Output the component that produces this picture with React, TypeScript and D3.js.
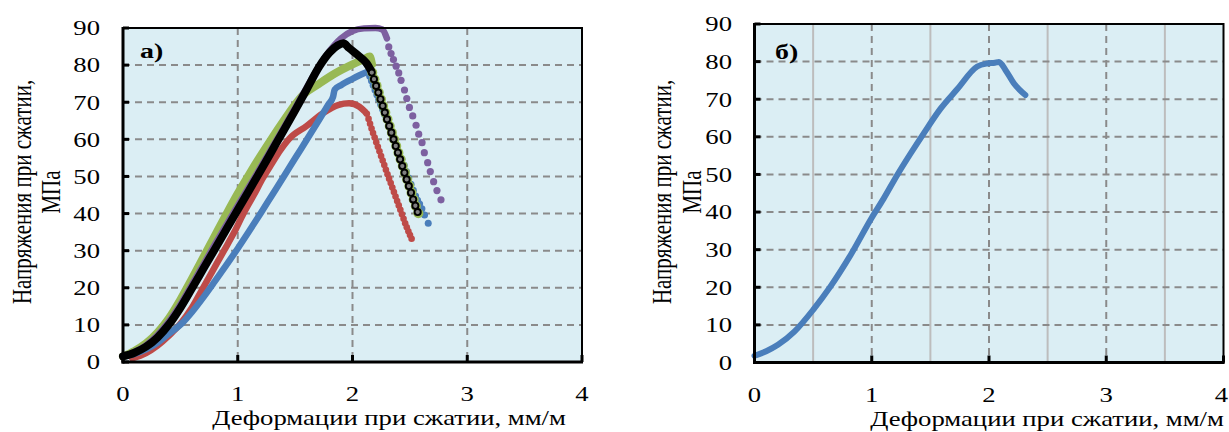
import React from "react";
import * as d3 from "d3";

type P = [number, number];

// ---------- texts & ticks ----------
const X_TICKS = [0, 1, 2, 3, 4];
const Y_TICKS = [0, 10, 20, 30, 40, 50, 60, 70, 80, 90];
const X_GRID_MAJOR = [1, 2, 3];
const X_GRID_MINOR_B = [0.5, 1.5, 2.5, 3.5];
const Y_GRID = [10, 20, 30, 40, 50, 60, 70, 80];
const X_TITLE = "Деформации при сжатии, мм/м";
const Y_TITLE_1 = "Напряжения при сжатии,";
const Y_TITLE_2 = "МПа";
const LABEL_A = "а)";
const LABEL_B = "б)";

// ---------- panel a data (strain mm/m, stress MPa) ----------
const redRise: P[] = [
  [0.08, 1], [0.2, 2.4], [0.3, 4.4], [0.4, 7.1], [0.5, 10.3], [0.6, 14.6], [0.68, 19],
  [0.78, 24.5], [0.88, 30], [0.97, 35], [1.05, 40], [1.14, 45], [1.22, 49.6], [1.3, 53.6],
  [1.37, 57], [1.45, 60.2], [1.6, 63.6], [1.74, 67], [1.88, 69.3], [1.97, 69.7],
  [2.06, 68.8], [2.11, 67.4],
];
const redFall: P[] = [
  [2.125, 66.9], [2.14, 65.5], [2.153, 64.2], [2.166, 62.9], [2.179, 61.7], [2.193, 60.5],
  [2.207, 59.2], [2.221, 58.0], [2.235, 56.8], [2.249, 55.5], [2.263, 54.3], [2.277, 53.1],
  [2.291, 51.8], [2.305, 50.6], [2.319, 49.4], [2.333, 48.2], [2.347, 47.0], [2.361, 45.8],
  [2.375, 44.6], [2.389, 43.4], [2.403, 42.2], [2.417, 41.0], [2.431, 39.8], [2.445, 38.6],
  [2.459, 37.4], [2.473, 36.3], [2.487, 35.2], [2.501, 34.2], [2.515, 33.2],
];

const blueRise: P[] = [
  [0, 1.5], [0.1, 2.2], [0.2, 3.4], [0.3, 5.2], [0.4, 7.6], [0.52, 10.6], [0.6, 13.4],
  [0.7, 17.4], [0.8, 21.7], [0.9, 26.1], [1.0, 30.6], [1.1, 35.3], [1.2, 40.1], [1.3, 45],
  [1.4, 49.9], [1.5, 54.9], [1.6, 59.8], [1.7, 64.8], [1.79, 69.4], [1.83, 71.4], [1.845, 73.4],
  [1.9, 74.6], [2.0, 76.3], [2.1, 77.8], [2.14, 78.3],
];
const blueFall: P[] = [
  [2.15, 77.0], [2.165, 75.8], [2.18, 74.6], [2.196, 73.3], [2.212, 72.0], [2.228, 70.7],
  [2.245, 69.4], [2.262, 68.1], [2.28, 66.7], [2.298, 65.3], [2.316, 63.9], [2.334, 62.4],
  [2.352, 60.9], [2.37, 59.4], [2.39, 57.8], [2.41, 56.2], [2.43, 54.6], [2.45, 53.0],
  [2.47, 51.3], [2.49, 49.6], [2.51, 47.9], [2.53, 46.3], [2.55, 44.7], [2.567, 43.6],
  [2.585, 42.6], [2.605, 41.3], [2.628, 39.6], [2.66, 37.4],
];

const greenRise: P[] = [
  [0, 1.5], [0.1, 3.0], [0.2, 5.0], [0.3, 7.9], [0.4, 11.8], [0.5, 16.8], [0.6, 22.4],
  [0.7, 28.2], [0.8, 34], [0.9, 39.8], [1.0, 45.4], [1.1, 50.6], [1.2, 55.6], [1.3, 60.4],
  [1.4, 65], [1.5, 69.4], [1.57, 72], [1.7, 74.8], [1.85, 77.8], [2.0, 80.2],
  [2.1, 81.6], [2.15, 82.3], [2.17, 80.2],
];
const greenFall: P[] = [
  [2.172, 78.0], [2.191, 76.2], [2.21, 74.4], [2.229, 72.6], [2.248, 70.8], [2.267, 69.0],
  [2.286, 67.2], [2.305, 65.4], [2.324, 63.6], [2.343, 61.8], [2.362, 60.0], [2.381, 58.2],
  [2.4, 56.4], [2.419, 54.6], [2.438, 52.8], [2.457, 51.0], [2.476, 49.2], [2.495, 47.4],
  [2.514, 45.6], [2.533, 43.8], [2.552, 42.0], [2.574, 40.1],
];

const purpleRise: P[] = [
  [0, 1.5], [0.1, 2.7], [0.2, 4.5], [0.3, 7.2], [0.4, 10.9], [0.5, 15.5], [0.6, 20.8],
  [0.7, 26.2], [0.8, 31.6], [0.9, 36.9], [1.0, 42.1], [1.1, 47.3], [1.2, 52.5], [1.3, 57.8],
  [1.4, 63.1], [1.5, 68.5], [1.6, 73.9], [1.7, 79.2], [1.8, 83.8], [1.9, 87.2], [2.0, 89.2],
  [2.1, 89.9], [2.2, 90], [2.26, 89.6], [2.3, 87.2],
];
const purpleFall: P[] = [
  [2.316, 84.9], [2.336, 83.1], [2.357, 81.5], [2.38, 79.7], [2.403, 77.9], [2.423, 75.9],
  [2.453, 73.3], [2.473, 71.0], [2.496, 68.6], [2.525, 66.3], [2.554, 63.8], [2.577, 61.4],
  [2.606, 59.1], [2.626, 56.4], [2.655, 53.7], [2.678, 51.3], [2.707, 48.6], [2.736, 46.2],
  [2.771, 43.7],
];

const blackRise: P[] = [
  [0, 1.5], [0.1, 2.5], [0.2, 4.1], [0.3, 6.6], [0.4, 10.1], [0.5, 14.6], [0.6, 19.8],
  [0.7, 25.1], [0.8, 30.4], [0.9, 35.7], [1.0, 41], [1.1, 46.3], [1.2, 51.6], [1.3, 57],
  [1.4, 62.4], [1.5, 67.8], [1.6, 73.4], [1.71, 79.6], [1.8, 83.4], [1.87, 85.3],
  [1.92, 85.9], [1.97, 84.6], [2.05, 82.6], [2.12, 80.6], [2.16, 78.6],
];
const blackFall: P[] = [
  [2.168, 78.0], [2.187, 76.2], [2.206, 74.4], [2.225, 72.6], [2.244, 70.8], [2.263, 69.0],
  [2.282, 67.2], [2.301, 65.4], [2.32, 63.6], [2.339, 61.8], [2.358, 60.0], [2.377, 58.2],
  [2.396, 56.4], [2.415, 54.6], [2.434, 52.8], [2.453, 51.0], [2.472, 49.2], [2.491, 47.4],
  [2.51, 45.6], [2.529, 43.8], [2.548, 42.1], [2.568, 40.4],
];

// ---------- panel b data ----------
const seriesB: P[] = [
  [0, 1.8], [0.1, 3], [0.2, 4.7], [0.34, 8.2], [0.5, 14], [0.65, 20.3], [0.82, 28.6],
  [1.0, 38.5], [1.1, 43.5], [1.22, 50], [1.33, 55.5], [1.445, 61], [1.587, 67.5],
  [1.73, 72.7], [1.9, 78.7], [1.985, 79.5], [2.05, 79.7], [2.085, 79.9], [2.14, 77.8],
  [2.21, 74.3], [2.31, 71.1],
];

// ---------- styling ----------
const FONT = "'Liberation Serif', 'Times New Roman', serif";
const SX = 1.27; // horizontal stretch of the original picture's lettering
const W = 1229;
const H = 432;
const BG = "#DBEEF4";
const GRID = "#8a8a8a";
const MINOR = "#bdbdbd";
const BLUE = "#4A7EBB";
const RED = "#BE4B48";
const GREEN = "#98B954";
const PURPLE = "#7D60A0";
const BLACK = "#000000";

interface PanelCfg {
  left: number; right: number; top: number; bottom: number;
  yLabelRight: number; yTitleX1: number; yTitleX2: number; yTitleY: number;
  xTitleX: number; xTitleY: number; xTickY: number;
  label: string; labelX: number; labelY: number; minor: boolean;
}

const CFG_A: PanelCfg = {
  left: 123, right: 582, top: 28, bottom: 362,
  yLabelRight: 100, yTitleX1: 31, yTitleX2: 60, yTitleY: 192,
  xTitleX: 389, xTitleY: 425, xTickY: 401,
  label: LABEL_A, labelX: 140, labelY: 58, minor: false,
};
const CFG_B: PanelCfg = {
  left: 754.5, right: 1223.5, top: 24, bottom: 362.5,
  yLabelRight: 732, yTitleX1: 671, yTitleX2: 701, yTitleY: 192,
  xTitleX: 1047, xTitleY: 426, xTickY: 402,
  label: LABEL_B, labelX: 775, labelY: 59, minor: true,
};

function T({ x, y, anchor, size, rotate, bold, dy, children }: { x: number; y: number; anchor?: string; size: number; rotate?: boolean; bold?: boolean; dy?: string; children: React.ReactNode }) {
  return (
    <text
      transform={`translate(${x},${y}) scale(${SX},1)${rotate ? " rotate(-90)" : ""}`}
      textAnchor={anchor || "start"}
      dy={dy}
      fontFamily={FONT}
      fontSize={size}
      fontWeight={bold ? "bold" : "normal"}
      fill="#000"
    >
      {children}
    </text>
  );
}

function Panel({ cfg, children }: { cfg: PanelCfg; children: (x: d3.ScaleLinear<number, number>, y: d3.ScaleLinear<number, number>) => React.ReactNode }) {
  const x = d3.scaleLinear().domain([0, 4]).range([cfg.left, cfg.right]);
  const y = d3.scaleLinear().domain([0, 90]).range([cfg.bottom, cfg.top]);
  return (
    <g>
      <rect x={cfg.left} y={cfg.top} width={cfg.right - cfg.left} height={cfg.bottom - cfg.top} fill={BG} />
      {cfg.minor && X_GRID_MINOR_B.map((t) => (
        <line key={"mn" + t} x1={x(t)} x2={x(t)} y1={cfg.top} y2={cfg.bottom} stroke={MINOR} strokeWidth={2} />
      ))}
      {Y_GRID.map((t) => (
        <line key={"hy" + t} x1={cfg.left} x2={cfg.right} y1={y(t)} y2={y(t)} stroke={GRID} strokeWidth={2} strokeDasharray="7,5" />
      ))}
      {X_GRID_MAJOR.map((t) => (
        <line key={"vx" + t} x1={x(t)} x2={x(t)} y1={cfg.top} y2={cfg.bottom} stroke={GRID} strokeWidth={2} strokeDasharray="7,5" />
      ))}
      {children(x, y)}
      <rect x={cfg.left} y={cfg.top} width={cfg.right - cfg.left} height={cfg.bottom - cfg.top} fill="none" stroke="#000" strokeWidth={2} />
      <line x1={cfg.left} x2={cfg.left} y1={cfg.top - 1} y2={cfg.bottom + 1.5} stroke="#000" strokeWidth={3} />
      <line x1={cfg.left - 1.5} x2={cfg.right + 1} y1={cfg.bottom} y2={cfg.bottom} stroke="#000" strokeWidth={3} />
      {Y_TICKS.map((t) => (
        <line key={"yt" + t} x1={cfg.left} x2={cfg.left + 6} y1={y(t)} y2={y(t)} stroke="#000" strokeWidth={3} />
      ))}
      {X_TICKS.map((t) => (
        <line key={"xt" + t} x1={x(t)} x2={x(t)} y1={cfg.bottom} y2={cfg.bottom - 7} stroke="#000" strokeWidth={3} />
      ))}
      {Y_TICKS.map((t) => (
        <T key={"yl" + t} x={cfg.yLabelRight} y={y(t)} dy="0.35em" anchor="end" size={21}>{t}</T>
      ))}
      {X_TICKS.map((t) => (
        <T key={"xl" + t} x={Math.min(x(t), W - 7.5)} y={cfg.xTickY} anchor="middle" size={21}>{t}</T>
      ))}
      <T x={cfg.xTitleX} y={cfg.xTitleY} anchor="middle" size={21}>{X_TITLE}</T>
      <T x={cfg.yTitleX1} y={cfg.yTitleY} anchor="middle" size={21} rotate>{Y_TITLE_1}</T>
      <T x={cfg.yTitleX2} y={cfg.yTitleY} anchor="middle" size={21} rotate>{Y_TITLE_2}</T>
      <T x={cfg.labelX} y={cfg.labelY} size={22} bold>{cfg.label}</T>
    </g>
  );
}

function mkLine(x: d3.ScaleLinear<number, number>, y: d3.ScaleLinear<number, number>) {
  return d3.line<P>().x((d) => x(d[0])).y((d) => y(d[1])).curve(d3.curveMonotoneX);
}

export default function App() {
  return (
    <svg width={W} height={H} style={{ position: "absolute", left: 0, top: 0, background: "#fff" }}>
      <Panel cfg={CFG_A}>
        {(x, y) => {
          const line = mkLine(x, y);
          const dots = (pts: P[], r: number, fill: string, key: string, stroke?: string, sw?: number) =>
            pts.map((d, i) => (
              <circle key={key + i} cx={x(d[0])} cy={y(d[1])} r={r} fill={fill} stroke={stroke || "none"} strokeWidth={sw || 0} />
            ));
          return (
            <g>
              <path d={line(redRise) || ""} fill="none" stroke={RED} strokeWidth={6.5} strokeLinejoin="round" strokeLinecap="round" />
              {dots(redFall, 3.3, RED, "rf")}
              <path d={line(blueRise) || ""} fill="none" stroke={BLUE} strokeWidth={6.5} strokeLinejoin="round" strokeLinecap="round" />
              {dots(blueFall, 3.5, BLUE, "bf")}
              <path d={line(greenRise) || ""} fill="none" stroke={GREEN} strokeWidth={8} strokeLinejoin="round" strokeLinecap="round" />
              {dots(greenFall, 5, GREEN, "gf")}
              <path d={line(purpleRise) || ""} fill="none" stroke={PURPLE} strokeWidth={6.5} strokeLinejoin="round" strokeLinecap="round" />
              {dots(purpleFall, 3.6, PURPLE, "pf")}
              <path d={line(blackRise) || ""} fill="none" stroke={BLACK} strokeWidth={8} strokeLinejoin="round" strokeLinecap="round" />
              {dots(blackFall, 3.1, "#7f7f7f", "kf", "#000", 1.9)}
            </g>
          );
        }}
      </Panel>
      <Panel cfg={CFG_B}>
        {(x, y) => {
          const line = mkLine(x, y);
          return <path d={line(seriesB) || ""} fill="none" stroke={BLUE} strokeWidth={6} strokeLinejoin="round" strokeLinecap="round" />;
        }}
      </Panel>
    </svg>
  );
}
